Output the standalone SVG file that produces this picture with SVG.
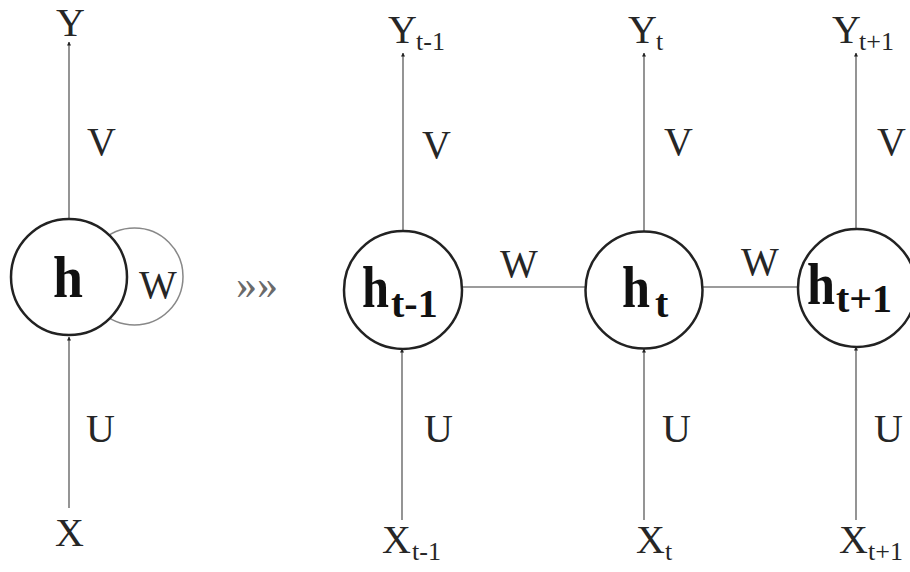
<svg xmlns="http://www.w3.org/2000/svg" width="910" height="572" viewBox="0 0 910 572">
<style>
.lbl{font-family:"Liberation Serif","Times New Roman",serif;font-size:40px;fill:#262626}
.sub{font-family:"Liberation Serif","Times New Roman",serif;font-size:26px;fill:#262626}
.hb{font-family:"Liberation Serif","Times New Roman",serif;font-size:60px;font-weight:bold;fill:#111}
.hs{font-family:"Liberation Serif","Times New Roman",serif;font-size:40px;font-weight:bold;fill:#111}
.node{fill:#fff;stroke:#222;stroke-width:2.5}
.edge{stroke:#7a7a7a;stroke-width:1.6;fill:none}
</style>
<defs>
<marker id="arr" viewBox="0 0 10 10" refX="9" refY="5" markerWidth="4" markerHeight="4" orient="auto" markerUnits="userSpaceOnUse">
<path d="M0,0 L10,5 L0,10 z" fill="#222"/>
</marker>
</defs>
<rect width="910" height="572" fill="#fff"/>

<g id="connectors">
  <line class="edge" x1="69" y1="219" x2="69" y2="42" marker-end="url(#arr)"/>
  <line class="edge" x1="69" y1="508" x2="69" y2="337" marker-end="url(#arr)"/>
  <circle cx="134.5" cy="276.5" r="48.5" fill="none" stroke="#888" stroke-width="1.5"/>
  <line class="edge" x1="403" y1="231" x2="403" y2="53" marker-end="url(#arr)"/>
  <line class="edge" x1="402" y1="520" x2="402" y2="349" marker-end="url(#arr)"/>
  <line class="edge" x1="644" y1="231" x2="644" y2="53" marker-end="url(#arr)"/>
  <line class="edge" x1="644" y1="520" x2="644" y2="349" marker-end="url(#arr)"/>
  <line class="edge" x1="856" y1="229" x2="856" y2="53" marker-end="url(#arr)"/>
  <line class="edge" x1="856" y1="520" x2="856" y2="347" marker-end="url(#arr)"/>
  <line class="edge" x1="462" y1="287" x2="586" y2="287"/>
  <line class="edge" x1="702" y1="287" x2="798" y2="287"/>
</g>

<g id="labels">
  <text class="lbl" x="56" y="36">Y</text>
  <text class="lbl" x="87" y="155">V</text>
  <text class="lbl" x="86" y="442">U</text>
  <text class="lbl" x="55" y="546">X</text>
  <text class="lbl" x="139" y="298">W</text>
  <text x="236" y="299" font-family="'Liberation Serif',serif" font-size="42" fill="#6a6a6a" textLength="42" lengthAdjust="spacingAndGlyphs">»»</text>

  <text class="lbl" x="388" y="43">Y</text><text class="sub" x="416" y="50">t-1</text>
  <text class="lbl" x="628" y="43">Y</text><text class="sub" x="656" y="50">t</text>
  <text class="lbl" x="832" y="43">Y</text><text class="sub" x="859" y="50">t+1</text>

  <text class="lbl" x="422" y="158">V</text>
  <text class="lbl" x="664" y="155">V</text>
  <text class="lbl" x="877" y="155">V</text>

  <text class="lbl" x="500" y="277">W</text>
  <text class="lbl" x="741" y="275">W</text>

  <text class="lbl" x="424" y="442">U</text>
  <text class="lbl" x="662" y="442">U</text>
  <text class="lbl" x="874" y="442">U</text>

  <text class="lbl" x="382" y="553">X</text><text class="sub" x="412" y="560">t-1</text>
  <text class="lbl" x="636" y="553">X</text><text class="sub" x="665" y="560">t</text>
  <text class="lbl" x="839" y="553">X</text><text class="sub" x="868" y="560">t+1</text>
</g>

<g id="node-h">
  <circle class="node" cx="69" cy="277" r="58"/>
  <text class="hb" x="53" y="297" textLength="30" lengthAdjust="spacingAndGlyphs">h</text>
</g>
<g id="node-ht-1">
  <circle class="node" cx="403" cy="290" r="59"/>
  <text class="hb" x="362" y="307" textLength="27" lengthAdjust="spacingAndGlyphs">h</text>
  <text class="hs" x="391" y="317">t-1</text>
</g>
<g id="node-ht">
  <circle class="node" cx="644" cy="290" r="58.5"/>
  <text class="hb" x="622" y="307" textLength="28" lengthAdjust="spacingAndGlyphs">h</text>
  <text class="hs" x="655" y="317">t</text>
</g>
<g id="node-ht+1">
  <circle class="node" cx="857" cy="288" r="59"/>
  <text class="hb" x="807" y="304" textLength="28" lengthAdjust="spacingAndGlyphs">h</text>
  <text class="hs" x="836" y="312">t+1</text>
</g>
</svg>
